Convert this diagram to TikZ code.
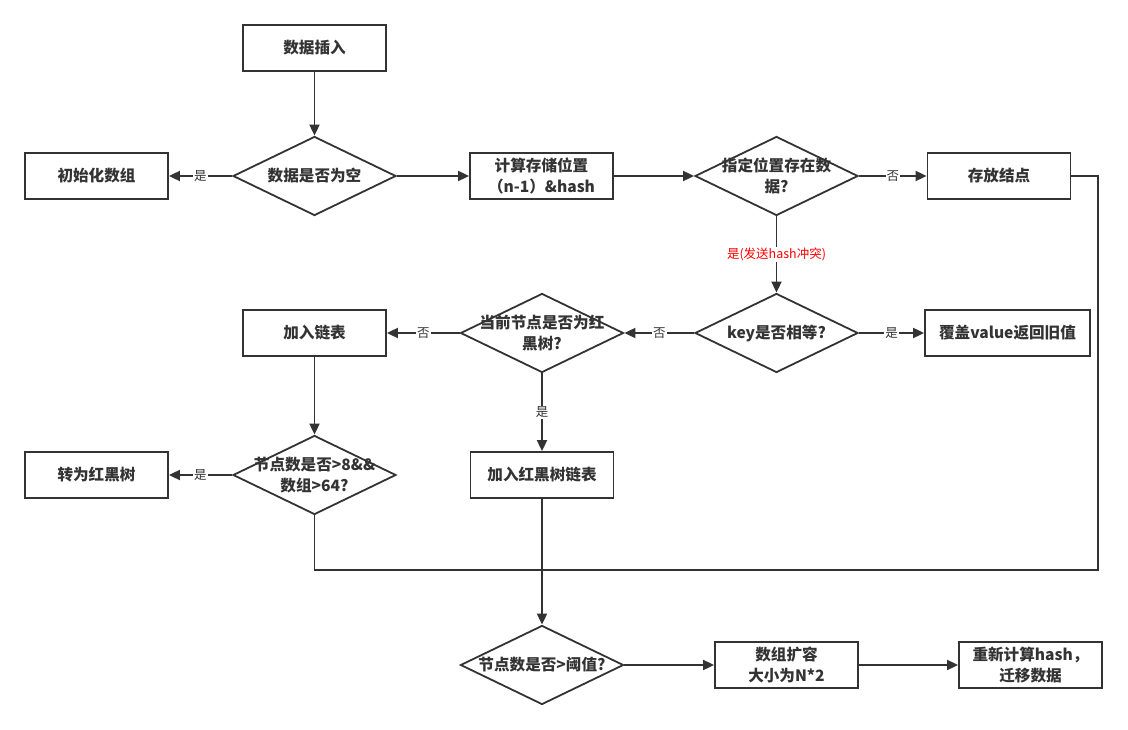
\documentclass[tikz,border=0pt]{standalone}
\usepackage{fontspec}
\setmainfont{Noto Sans CJK SC}
\usetikzlibrary{arrows.meta,shapes.geometric}
\definecolor{ln}{HTML}{333333}
\tikzset{
  box/.style={draw=ln, line width=1.8pt, minimum width=143pt, minimum height=46pt, inner sep=2pt, align=center, text=ln, font=\bfseries\fontsize{15.6}{21}\selectfont},
  dia/.style={diamond, draw=ln, line width=1.8pt, minimum width=163pt, minimum height=79pt, inner sep=0pt},
  dtext/.style={align=center, text=ln, font=\bfseries\fontsize{15.6}{21}\selectfont},
  arr/.style={-{Triangle[length=11pt,width=10pt]}, draw=ln, line width=1.8pt},
  con/.style={draw=ln, line width=1.8pt},
  lbl/.style={fill=white, inner sep=1pt, text=ln, font=\fontsize{12.5}{14}\selectfont},
}
\begin{document}
\begin{tikzpicture}[x=1pt,y=-1pt]
\useasboundingbox (0,0) rectangle (1128,730);
\node[box] (ins) at (314.5,48) {数据插入};
\node[dia, label={[dtext]center:数据是否为空}] (empty) at (314.5,176) {};
\node[box] (init) at (96.5,176) {初始化数组};
\node[box] (calc) at (541.5,176) {计算存储位置\\（n-1）\&hash};
\node[dia, label={[dtext]center:指定位置存在数\\据?}] (exist) at (776.5,176) {};
\node[box] (store) at (999,176) {存放结点};
\node[dia, label={[dtext]center:key是否相等?}] (key) at (776.5,333) {};
\node[box, minimum width=165pt] (cover) at (1007.5,333) {覆盖value返回旧值};
\node[dia, label={[dtext]center:当前节点是否为红\\黑树?}] (rbq) at (542,333) {};
\node[box] (list) at (314.5,333) {加入链表};
\node[dia, label={[dtext]center:节点数是否>8\&\&\\数组>64?}] (cnt) at (314.5,475) {};
\node[box] (tree) at (96.5,475) {转为红黑树};
\node[box] (rblist) at (542,475) {加入红黑树链表};
\node[dia, label={[dtext]center:节点数是否>阈值?}] (thr) at (542,665) {};
\node[box] (expand) at (786.5,665) {数组扩容\\大小为N*2};
\node[box] (rehash) at (1030.5,665) {重新计算hash，\\迁移数据};
\coordinate (rc) at (1098,570);
\coordinate (mid) at (542,570);

\draw[arr] (ins) -- (empty);
\draw[arr] (empty) -- node[lbl]{是} (init);
\draw[arr] (empty) -- (calc);
\draw[arr] (calc) -- (exist);
\draw[arr] (exist) -- node[lbl]{否} (store);
\draw[arr] (exist) -- node[lbl, text=red]{是(发送hash冲突)} (key);
\draw[arr] (key) -- node[lbl]{是} (cover);
\draw[arr] (key) -- node[lbl]{否} (rbq);
\draw[arr] (rbq) -- node[lbl]{否} (list);
\draw[arr] (rbq) -- node[lbl]{是} (rblist);
\draw[arr] (list) -- (cnt);
\draw[arr] (cnt) -- node[lbl]{是} (tree);
\draw[con] (cnt.south) |- (mid);
\draw[con] (store.east) -| (rc) -- (mid);
\draw[arr] (rblist) -- (thr);
\draw[arr] (thr) -- (expand);
\draw[arr] (expand) -- (rehash);
\end{tikzpicture}
\end{document}
